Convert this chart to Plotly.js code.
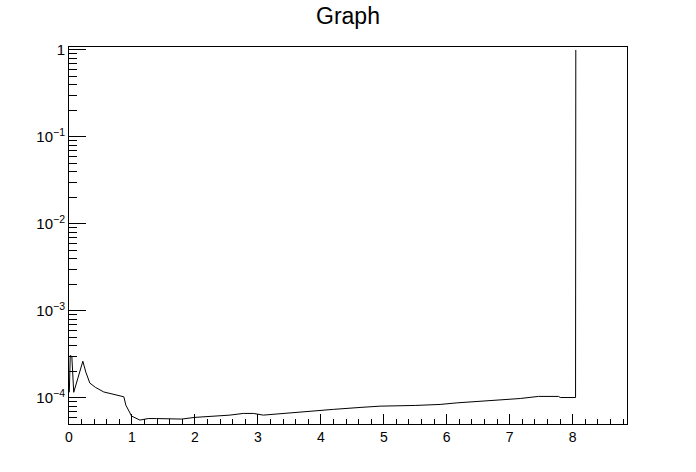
<!DOCTYPE html>
<html>
<head>
<meta charset="utf-8">
<script src="https://cdn.plot.ly/plotly-3.0.1.min.js"></script>
<style>html,body{margin:0;padding:0;background:#fff;}#chart{width:696px;height:472px;}</style>
</head>
<body>
<div id="chart"></div>
<script>
var xValues = [0.005, 0.02, 0.045, 0.075, 0.22, 0.267, 0.331, 0.421, 0.553, 0.712, 0.871, 0.903, 0.994, 1.126, 1.258, 1.391, 1.789, 2.0, 2.318, 2.556, 2.768, 2.927, 3.086, 3.404, 3.776, 4.199, 4.623, 4.941, 5.498, 5.895, 6.161, 6.425, 6.638, 6.902, 7.167, 7.458, 7.776, 7.803, 8.046, 8.05];
var yValues = [1.16e-4, 3.07e-4, 2.99e-4, 1.16e-4, 2.64e-4, 1.98e-4, 1.48e-4, 1.32e-4, 1.17e-4, 1.10e-4, 1.03e-4, 8.26e-5, 6.18e-5, 5.56e-5, 5.79e-5, 5.79e-5, 5.71e-5, 5.97e-5, 6.18e-5, 6.34e-5, 6.63e-5, 6.63e-5, 6.34e-5, 6.63e-5, 7.05e-5, 7.38e-5, 7.77e-5, 8.04e-5, 8.19e-5, 8.41e-5, 8.77e-5, 9.0e-5, 9.24e-5, 9.59e-5, 9.84e-5, 1.04e-4, 1.04e-4, 1.01e-4, 1.01e-4, 1.0];
var yTickVals = [1e-4, 1e-3, 1e-2, 1e-1, 1];
var yTickText = ['10<sup>\u22124</sup>', '10<sup>\u22123</sup>', '10<sup>\u22122</sup>', '10<sup>\u22121</sup>', '1'];
var titleText = 'Graph';

var trace = {
  x: xValues, y: yValues, type: 'scatter', mode: 'lines',
  line: {color: '#000', width: 1}, hoverinfo: 'none'
};
var font = {family: 'Liberation Sans, Arial, Helvetica, sans-serif', color: '#000'};
var layout = {
  width: 696, height: 472,
  margin: {l: 69, r: 69, t: 47, b: 48, pad: 0},
  paper_bgcolor: '#fff', plot_bgcolor: '#fff',
  showlegend: false,
  font: font,
  title: {text: titleText, x: 0.5, xanchor: 'center', y: 0.966, yanchor: 'middle',
          font: {family: font.family, size: 23, color: '#000'}},
  xaxis: {
    range: [0, 8.863], showgrid: false, zeroline: false,
    showline: true, linecolor: '#000', linewidth: 1, mirror: true,
    ticks: 'inside', ticklen: 10, tickwidth: 1, tickcolor: '#000',
    tick0: 0, dtick: 1,
    minor: {ticks: 'inside', ticklen: 5, tickwidth: 1, tickcolor: '#000', dtick: 0.2, showgrid: false},
    tickfont: {family: font.family, size: 14, color: '#000'}
  },
  yaxis: {
    type: 'log', range: [-4.30, 0.034], showgrid: false, zeroline: false,
    showline: true, linecolor: '#000', linewidth: 1, mirror: true,
    ticks: 'inside', ticklen: 17, tickwidth: 1, tickcolor: '#000',
    tickmode: 'array', tickvals: yTickVals, ticktext: yTickText,
    minor: {ticks: 'inside', ticklen: 8, tickwidth: 1, tickcolor: '#000', dtick: 'D1', showgrid: false},
    tickfont: {family: font.family, size: 15, color: '#000'}
  }
};
Plotly.newPlot('chart', [trace], layout, {staticPlot: true, displayModeBar: false});
</script>
</body>
</html>
